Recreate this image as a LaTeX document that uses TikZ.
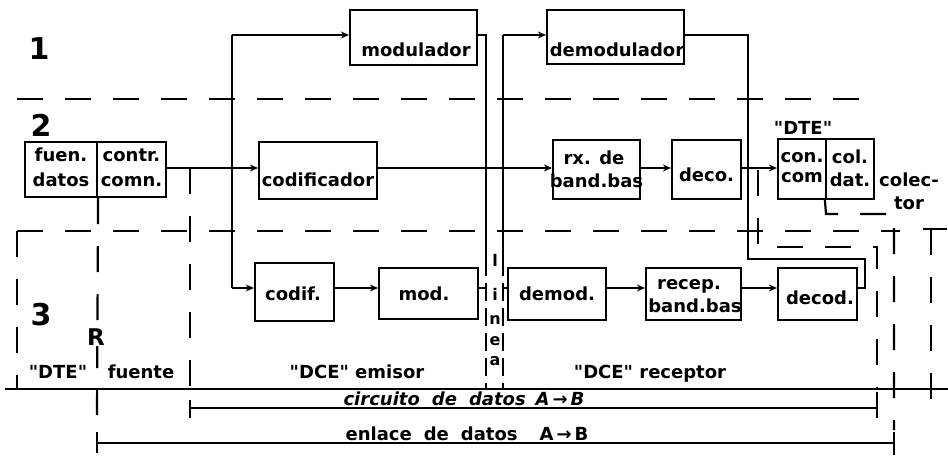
\documentclass[tikz,border=0pt]{standalone}
\usepackage{fontspec}
\setmainfont{DejaVu Sans}[Ligatures=TeXOff]
\usetikzlibrary{arrows.meta}
\tikzset{
  ln/.style={line width=2.2pt},
  box/.style={draw, line width=2.2pt, inner sep=0pt},
  arr/.style={line width=2.2pt, -{Stealth[length=8pt,width=7pt]}},
  dsh/.style={line width=2.2pt, dash pattern=on 26pt off 22pt},
  dshs/.style={line width=2.2pt, dash pattern=on 18pt off 7pt},
  lbl/.style={inner sep=0pt, anchor=base, font=\fontsize{18}{20}\selectfont\bfseries},
  lbli/.style={inner sep=0pt, anchor=base, font=\fontsize{18}{20}\selectfont\bfseries\itshape},
  lblv/.style={inner sep=0pt, anchor=base, font=\fontsize{16}{18}\selectfont\bfseries},
  big/.style={inner sep=0pt, anchor=base, font=\fontsize{30}{32}\selectfont\bfseries},
}
\begin{document}
\begin{tikzpicture}[x=1pt,y=-1pt]
\useasboundingbox (0,0) rectangle (948,457);
% ---------- boxes
\node[box, minimum width=127pt, minimum height=55pt] (modr) at (413.5,37.5) {};
\node[box, minimum width=137pt, minimum height=54pt] (demodr) at (615.5,37) {};
\node[box, minimum width=72pt, minimum height=55pt] (fuen) at (61,169.5) {};
\node[box, minimum width=69pt, minimum height=55pt] (contr) at (131.5,169.5) {};
\node[box, minimum width=118pt, minimum height=57pt] (codr) at (318,170.5) {};
\node[box, minimum width=87pt, minimum height=59pt] (rxbb) at (596.5,169.5) {};
\node[box, minimum width=69pt, minimum height=59pt] (deco) at (706.5,169.5) {};
\node[box, minimum width=48pt, minimum height=60pt] (concom) at (802,169) {};
\node[box, minimum width=48pt, minimum height=60pt] (coldat) at (850,169) {};
\node[box, minimum width=79pt, minimum height=58pt] (codif) at (294.5,292) {};
\node[box, minimum width=99pt, minimum height=51pt] (mod) at (428.5,293.5) {};
\node[box, minimum width=98pt, minimum height=52pt] (demod) at (557,294) {};
\node[box, minimum width=95pt, minimum height=52pt] (recep) at (693.5,294) {};
\node[box, minimum width=79pt, minimum height=52pt] (decod) at (817.5,294) {};
% ---------- coordinates
\coordinate (row2) at (0,168);
\coordinate (row3) at (0,288);
\coordinate (top) at (0,35);
\coordinate (trT) at (232,35);
\coordinate (trB) at (232,288);
\coordinate (lLt) at (486,35);
\coordinate (lLm) at (486,258);
\coordinate (lLb) at (486,389);
\coordinate (lRt) at (503,35);
\coordinate (lRm) at (503,258);
\coordinate (lRb) at (503,389);
\coordinate (dx) at (748,259);
\coordinate (ex) at (865,259);
% ---------- connectors
\draw[arr] (contr.east|-row2) -- (codr.west|-row2);
\draw[ln] (trT) -- (trB);
\draw[arr] (trT) -- (modr.west|-trT);
\draw[arr] (trB) -- (codif.west|-trB);
\draw[arr] (codr.east|-row2) -- (rxbb.west|-row2);
\draw[arr] (rxbb.east|-row2) -- (deco.west|-row2);
\draw[arr] (deco.east|-row2) -- (concom.west|-row2);
\draw[arr] (codif.east|-row3) -- (mod.west|-row3);
\draw[arr] (demod.east|-row3) -- (recep.west|-row3);
\draw[arr] (recep.east|-row3) -- (decod.west|-row3);
% linea
\draw[ln] (modr.east|-top) -- (lLt) -- (lLm);
\draw[dshs] (lLm) -- (lLb);
\draw[ln] (lRm) -- (lRt);
\draw[dshs] (lRm) -- (lRb);
\draw[arr] (lRt) -- (demodr.west|-top);
\draw[ln] (mod.east|-row3) -- (lLt|-row3);
\draw[ln] (lRt|-row3) -- (demod.west|-row3);
% demodulador -> decod
\draw[ln] (demodr.east|-top) -- (dx|-top) -- (dx) -- (ex) -- (ex|-row3) -- (decod.east|-row3);
% ---------- region lines
\draw[dsh] (17,99) -- (880,99);
\draw[dsh] (17,231) -- (900,231);
\draw[dsh] (17,231) -- (17,389);
\draw[ln] (923,229) -- (947,229);
\draw[dsh] (931,229) -- (931,400);
\draw[dsh] (fuen.south east) -- (97,415);
\draw[dsh] (190,168) -- (190,389);
\draw[dsh] (758,170) -- (758,247) -- (877,247) -- (877,389);
\draw[dsh] (coldat.south west) -- (826,214) -- (894,214) -- (894,430);
\draw[ln] (5,389) -- (948,389);
% brackets
\draw[ln] (190,400) -- (190,418);
\draw[ln] (190,408) -- (877,408);
\draw[ln] (877,392) -- (877,418);
\draw[ln] (97,432) -- (97,453);
\draw[ln] (97,443) -- (894,443);
\draw[ln] (894,432) -- (894,455);
% ---------- texts
\node[big] (n1) at (39,60) {1};
\node[big] (n2) at (41,137) {2};
\node[big] (n3) at (41,325) {3};
\node[inner sep=1pt, anchor=base, fill=white, font=\fontsize{23}{25}\selectfont\bfseries] (rr) at (96,345) {R};
\node[lbl] (tmodr) at (416,57) {modulador};
\node[lbl] (tdemodr) at (617,57) {demodulador};
\node[lbl] (tfuen1) at (61,162) {fuen.};
\node[lbl] (tfuen2) at (61,187) {datos};
\node[lbl] (tcontr1) at (131.5,162) {contr.};
\node[lbl] (tcontr2) at (131.5,187) {comn.};
\node[lbl] (tcodr) at (318,187) {codificador};
\node[lbl] (trx1) at (594,165) {rx. de};
\node[lbl] (trx2) at (596.5,188) {band.bas};
\node[lbl] (tdeco) at (706.5,182) {deco.};
\node[lbl] (tcon1) at (802,163) {con.};
\node[lbl] (tcon2) at (802,183) {com};
\node[lbl] (tcol1) at (850,164) {col.};
\node[lbl] (tcol2) at (850,187) {dat.};
\node[lbl] (tdte) at (803,135) {"DTE"};
\node[lbl] (tcolec1) at (909,187) {colec-};
\node[lbl] (tcolec2) at (909,210) {tor};
\node[lbl] (tcodif) at (293,300) {codif.};
\node[lbl] (tmod) at (424,300) {mod.};
\node[lbl] (tdemod) at (557,300) {demod.};
\node[lbl] (trecep1) at (689,290) {recep.};
\node[lbl] (trecep2) at (695,312) {band.bas};
\node[lbl] (tdecod) at (820,305) {decod.};
\node[lblv] (tl1) at (495,266) {l};
\node[lblv] (tl2) at (495,300) {i};
\node[lblv] (tl3) at (495,324) {n};
\node[lblv] (tl4) at (495,345) {e};
\node[lblv] (tl5) at (495,365) {a};
\node[lbl] (tdte2) at (58,378) {"DTE"};
\node[lbl] (tfuente) at (141,378) {fuente};
\node[lbl] (temisor) at (357,378) {"DCE" emisor};
\node[lbl] (treceptor) at (650,378) {"DCE" receptor};
\node[lbli] (tcirc) at (464,405) {circuito\hspace{12pt}de\hspace{12pt}datos\hspace{10pt}A\,→\,B};
\node[lbl] (tenl) at (467,440) {enlace\hspace{12pt}de\hspace{12pt}datos\hspace{22pt}A\,→\,B};
\end{tikzpicture}
\end{document}
